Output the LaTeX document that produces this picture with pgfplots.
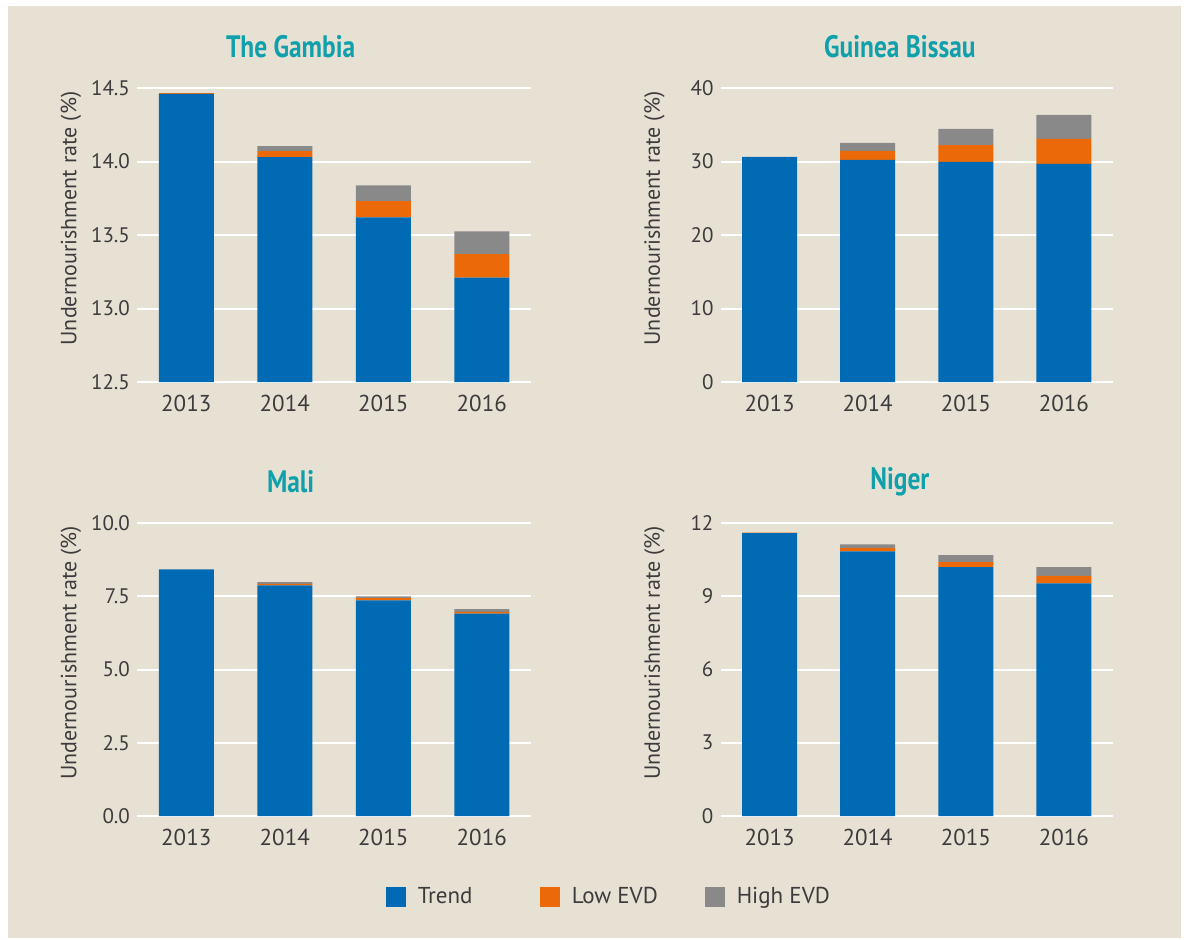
\documentclass[border=0pt]{standalone}
\usepackage{pgfplots}
\pgfplotsset{compat=1.18}
\usepackage{fontspec}
\setmainfont{PT Sans}
\definecolor{bgbeige}{RGB}{231,225,212}
\definecolor{cblue}{RGB}{0,107,180}
\definecolor{corange}{RGB}{235,105,9}
\definecolor{cgray}{RGB}{137,137,137}
\definecolor{cteal}{RGB}{16,160,172}
\definecolor{ctext}{RGB}{60,60,60}
\pgfplotsset{
  panel/.style={
    scale only axis, anchor=south west,
    ybar stacked, bar width=27.5pt,
    xmin=-0.5, xmax=3.5,
    xtick={0,1,2,3}, xticklabels={2013,2014,2015,2016},
    axis line style={draw=none}, tick style={draw=none},
    ymajorgrids, major grid style={white, line width=1pt},
    /pgf/number format/assume math mode=true,
    yticklabel style={font=\fontsize{10.5}{12}\selectfont, text=ctext},
    xticklabel style={font=\fontsize{11.5}{13}\selectfont, text=ctext, yshift=-3pt},
    ylabel={Undernourishment rate (\%)},
    every axis y label/.style={at={(axis description cs:0,0.556)}, xshift=-33pt, rotate=90, anchor=center, font=\fontsize{11}{13}\selectfont, text=ctext},
    title style={font=\bfseries\fontsize{15.5}{17}\selectfont, text=cteal, anchor=center, yshift=14.5pt},
    legend image code/.code={\fill[##1] (0pt,-5pt) rectangle (10pt,5pt); \path (14pt,0pt);},
  },
}
\begin{document}
\begin{tikzpicture}
\fill[white] (0pt,0pt) rectangle (593pt,469.5pt);
\fill[bgbeige] (4pt,0.5pt) rectangle (590.5pt,466.5pt);
% The Gambia
\begin{axis}[panel, at={(68.5pt,278.5pt)}, width=197pt, height=147pt,
  ymin=12.5, ymax=14.5, ytick={12.5,13,13.5,14,14.5},
  yticklabel style={/pgf/number format/.cd, fixed, fixed zerofill, precision=1},
  title={\scalebox{0.82}[1]{The Gambia}}, title style={at={(axis description cs:0.39,1)}}]
\addplot[fill=cblue, draw=none] coordinates {(0,14.46) (1,14.03) (2,13.62) (3,13.21)};
\addplot[fill=corange, draw=none] coordinates {(0,0.006) (1,0.04) (2,0.11) (3,0.16)};
\addplot[fill=cgray, draw=none] coordinates {(0,0) (1,0.035) (2,0.107) (3,0.154)};
\end{axis}
% Guinea Bissau
\begin{axis}[panel, at={(360.25pt,278.5pt)}, width=196.25pt, height=147pt,
  ymin=0, ymax=40, ytick={0,10,20,30,40},
  title={\scalebox{0.82}[1]{Guinea Bissau}}, title style={at={(axis description cs:0.457,1)}}]
\addplot[fill=cblue, draw=none] coordinates {(0,30.64) (1,30.23) (2,29.95) (3,29.68)};
\addplot[fill=corange, draw=none] coordinates {(0,0) (1,1.22) (2,2.27) (3,3.41)};
\addplot[fill=cgray, draw=none] coordinates {(0,0) (1,1.10) (2,2.22) (3,3.27)};
\end{axis}
% Mali
\begin{axis}[panel, at={(68.5pt,61.5pt)}, width=197pt, height=146.5pt,
  ymin=0, ymax=10, ytick={0,2.5,5,7.5,10},
  yticklabel style={/pgf/number format/.cd, fixed, fixed zerofill, precision=1},
  title={\scalebox{0.82}[1]{Mali}}, title style={at={(axis description cs:0.39,1)}}]
\addplot[fill=cblue, draw=none] coordinates {(0,8.42) (1,7.875) (2,7.36) (3,6.91)};
\addplot[fill=corange, draw=none] coordinates {(0,0) (1,0.045) (2,0.08) (3,0.06)};
\addplot[fill=cgray, draw=none] coordinates {(0,0) (1,0.06) (2,0.06) (3,0.09)};
\end{axis}
% Niger
\begin{axis}[panel, at={(360.25pt,61.5pt)}, width=196.25pt, height=146.5pt,
  ymin=0, ymax=12, ytick={0,3,6,9,12},
  title={\scalebox{0.82}[1]{Niger}}, title style={at={(axis description cs:0.457,1)}},
  legend style={at={(axis description cs:-0.282,-0.276)}, anchor=center, draw=none, fill=none,
    legend columns=3, font=\fontsize{11.5}{13}\selectfont, text=ctext,
    /tikz/every even column/.append style={column sep=10pt}},
  legend cell align=left]
\addplot[fill=cblue, draw=none] coordinates {(0,11.59) (1,10.84) (2,10.19) (3,9.53)};
\addplot[fill=corange, draw=none] coordinates {(0,0.02) (1,0.14) (2,0.21) (3,0.30)};
\addplot[fill=cgray, draw=none] coordinates {(0,0) (1,0.15) (2,0.28) (3,0.36)};
\legend{\makebox[49pt][l]{Trend}, \makebox[54.5pt][l]{Low EVD}, High EVD}
\end{axis}
\end{tikzpicture}
\end{document}
